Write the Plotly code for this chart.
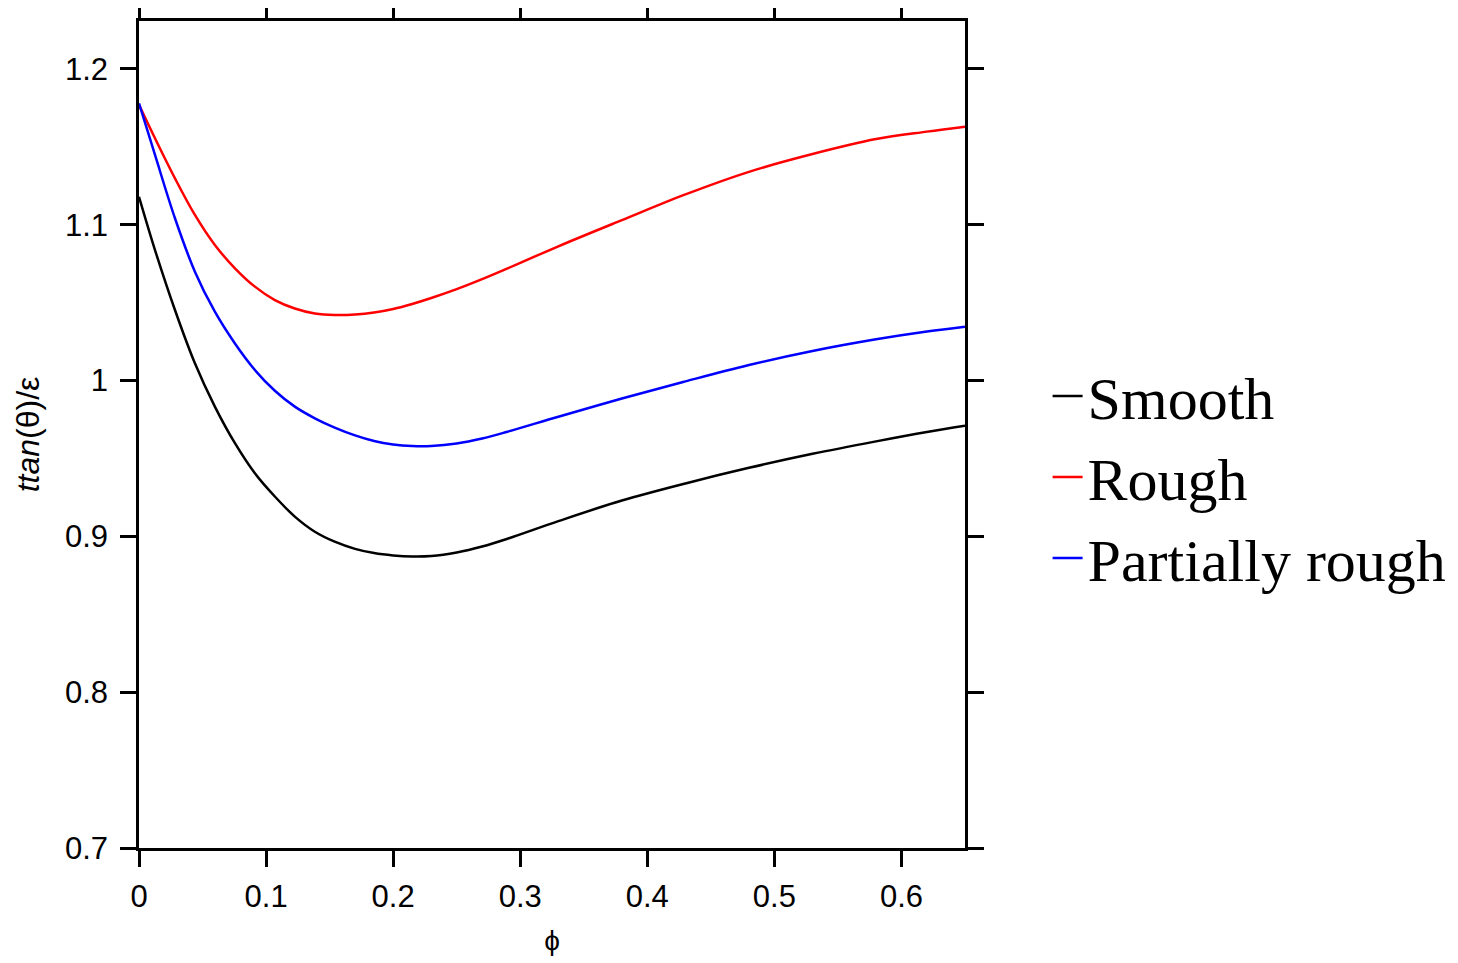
import plotly.graph_objects as go

phi = [0, 0.0126, 0.0283, 0.044, 0.0597, 0.0755, 0.0912, 0.1069, 0.1226, 0.1384,
       0.154, 0.17, 0.185, 0.2, 0.215, 0.23, 0.25, 0.27, 0.29, 0.33, 0.38, 0.43,
       0.48, 0.53, 0.58, 0.62, 0.65]

smooth = [1.118, 1.0838, 1.0453, 1.0111, 0.9833, 0.9598, 0.9405, 0.9256, 0.9127, 0.9030,
          0.8966, 0.8920, 0.8893, 0.8878, 0.8871, 0.8874, 0.8897, 0.8935, 0.8985, 0.9098,
          0.923, 0.934, 0.944, 0.953, 0.961, 0.967, 0.971]
rough = [1.177, 1.1555, 1.1298, 1.1063, 1.087, 1.0721, 1.0603, 1.0517, 1.0463, 1.0431,
         1.0421, 1.0424, 1.0437, 1.0460, 1.0492, 1.0530, 1.0587, 1.0651, 1.0720, 1.0862,
         1.1030, 1.1195, 1.1340, 1.1454, 1.1550, 1.1598, 1.163]
partial = [1.178, 1.1448, 1.1042, 1.0699, 1.0442, 1.0238, 1.0068, 0.9935, 0.9833, 0.9758,
           0.9698, 0.9648, 0.9612, 0.9590, 0.9580, 0.9580, 0.9596, 0.9628, 0.9672, 0.9768,
           0.9885, 0.9995, 1.0100, 1.0190, 1.0265, 1.0315, 1.0346]

series_names = ["Smooth", "Rough", "Partially rough"]
series_colors = ["#000000", "#ff0000", "#0000ff"]

x_tickvals = [0, 0.1, 0.2, 0.3, 0.4, 0.5, 0.6]
x_ticktext = ["0", "0.1", "0.2", "0.3", "0.4", "0.5", "0.6"]
y_tickvals = [0.7, 0.8, 0.9, 1.0, 1.1, 1.2]
y_ticktext = ["0.7", "0.8", "0.9", "1", "1.1", "1.2"]

fig = go.Figure()
for name, ys, col in zip(series_names, [smooth, rough, partial], series_colors):
    fig.add_trace(go.Scatter(x=phi, y=ys, mode="lines", name=name,
                             line=dict(color=col, width=2.5, shape="spline", smoothing=1.0)))

axis_common = dict(showline=True, linecolor="black", linewidth=2.5, mirror="allticks",
                   ticks="outside", ticklen=16, tickwidth=2.5, tickcolor="black",
                   showgrid=False, zeroline=False,
                   tickfont=dict(family="Liberation Sans, Arial, sans-serif", size=31, color="black"))

fig.update_xaxes(range=[0, 0.65], tickvals=x_tickvals, ticktext=x_ticktext,
                 ticklabelstandoff=3,
                 title=dict(text="ϕ", font=dict(family="Liberation Sans, DejaVu Sans, sans-serif", size=28, color="black"), standoff=18),
                 **axis_common)
fig.update_yaxes(range=[0.7, 1.2308], tickvals=y_tickvals, ticktext=y_ticktext,
                 ticklabelstandoff=6,
                 title=dict(text="<i>ttan</i>(θ)/ε", font=dict(family="Liberation Sans, Arial, sans-serif", size=32, color="black"), standoff=16),
                 **axis_common)

fig.update_layout(
    width=1450, height=955,
    margin=dict(l=131, r=493, t=13, b=115, autoexpand=False),
    plot_bgcolor="white", paper_bgcolor="white",
    legend=dict(x=1.1, xanchor="left", y=0.4487, yanchor="middle",
                font=dict(family="Liberation Serif, Times New Roman, serif", size=60, color="black"),
                bgcolor="rgba(0,0,0,0)", borderwidth=0),
    showlegend=True,
)

fig.write_html("out.html")
